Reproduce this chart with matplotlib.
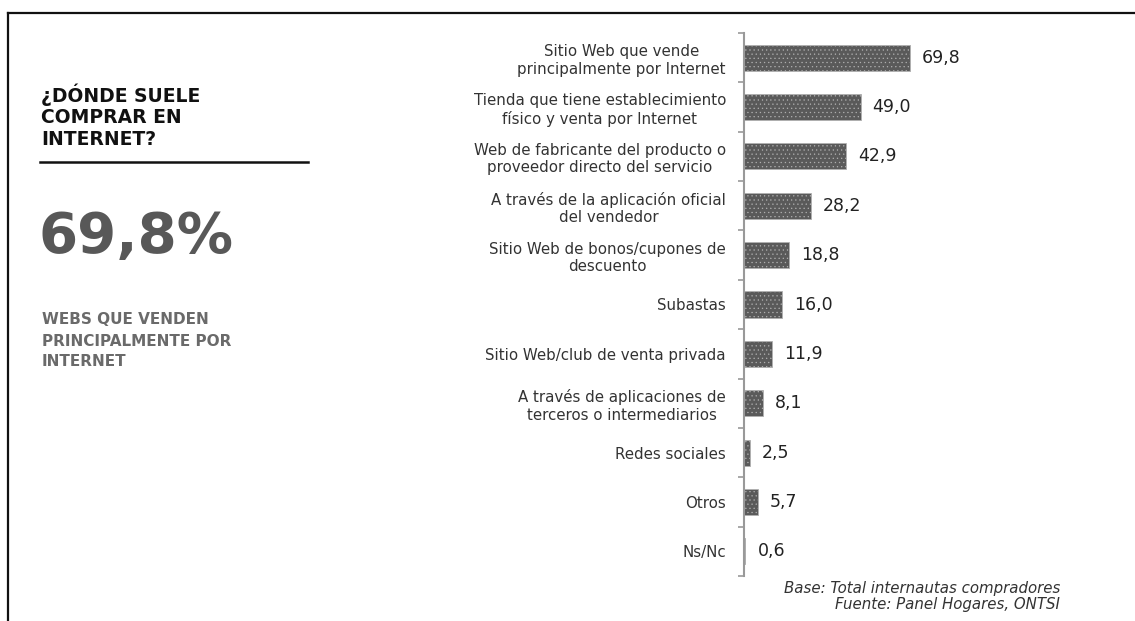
import matplotlib
matplotlib.use('Agg')
import matplotlib.pyplot as plt
from matplotlib.lines import Line2D
import numpy as np

# datos
categorias = [
    'Sitio Web que vende\nprincipalmente por Internet',
    'Tienda que tiene establecimiento\nfísico y venta por Internet',
    'Web de fabricante del producto o\nproveedor directo del servicio',
    'A través de la aplicación oficial\ndel vendedor',
    'Sitio Web de bonos/cupones de\ndescuento',
    'Subastas',
    'Sitio Web/club de venta privada',
    'A través de aplicaciones de\nterceros o intermediarios',
    'Redes sociales',
    'Otros',
    'Ns/Nc',
]
valores = [69.8, 49.0, 42.9, 28.2, 18.8, 16.0, 11.9, 8.1, 2.5, 5.7, 0.6]
etiquetas = ['69,8', '49,0', '42,9', '28,2', '18,8', '16,0', '11,9', '8,1', '2,5', '5,7', '0,6']

plt.rcParams['font.family'] = 'DejaVu Sans'
plt.rcParams['hatch.color'] = '#666666'
plt.rcParams['hatch.linewidth'] = 0.4

W, H = 1135, 621
fig = plt.figure(figsize=(W / 100, H / 100), dpi=100)

# marco (arriba e izquierda)
fig.add_artist(Line2D([8 / W, 1], [1 - 13 / H, 1 - 13 / H], color='#111111', lw=1.6))
fig.add_artist(Line2D([8 / W, 8 / W], [0, 1 - 13 / H], color='#111111', lw=1.6))

# panel izquierdo
fig.text(41 / W, 1 - 116 / H, '¿DÓNDE SUELE\nCOMPRAR EN\nINTERNET?',
         weight='bold', fontsize=13.5, color='#111111', va='center', ha='left', linespacing=1.18)
fig.add_artist(Line2D([40 / W, 308 / W], [1 - 162 / H, 1 - 162 / H], color='#111111', lw=1.8))
fig.text(38 / W, 1 - 237 / H, '69,8%', weight='bold', fontsize=40.5,
         color='#585858', va='center', ha='left')
fig.text(42 / W, 1 - 341 / H, 'WEBS QUE VENDEN\nPRINCIPALMENTE POR\nINTERNET',
         weight='bold', fontsize=11, color='#6a6a6a', va='center', ha='left', linespacing=1.5)

# gráfico de barras
x0, x1 = 744, 1100
ax = fig.add_axes([x0 / W, 1 - 576 / H, (x1 - x0) / W, (576 - 33) / H])
y = np.arange(len(valores))
ax.barh(y, valores, height=0.53, color='#5a5a5a', edgecolor='#b0b0b0', lw=0.6,
        hatch='....', zorder=2)
ax.set_xlim(0, (x1 - x0) / 2.38)
ax.set_ylim(len(valores) - 0.5, -0.5)

for yi, v, t in zip(y, valores, etiquetas):
    ax.annotate(t, (v, yi), xytext=(12, 0), textcoords='offset pixels', va='center',
                ha='left', fontsize=12.5, color='#222222')

ax.set_yticks(y)
ax.set_yticklabels(categorias, fontsize=10.8, color='#333333')
for lab in ax.get_yticklabels():
    lab.set_multialignment('center')
ax.set_yticks(np.arange(-0.5, len(valores), 1), minor=True)
ax.tick_params(axis='y', which='major', length=0, pad=13)
ax.tick_params(axis='y', which='minor', length=4, color='#999999', width=1.2)
ax.set_xticks([])
for s in ['top', 'right', 'bottom']:
    ax.spines[s].set_visible(False)
ax.spines['left'].set_color('#999999')
ax.spines['left'].set_linewidth(1.5)

fig.text(1060 / W, 1 - 588 / H, 'Base: Total internautas compradores', style='italic',
         fontsize=10.8, color='#333333', ha='right', va='center')
fig.text(1060 / W, 1 - 605 / H, 'Fuente: Panel Hogares, ONTSI', style='italic',
         fontsize=10.8, color='#333333', ha='right', va='center')

fig.savefig('out.png', dpi=100)
